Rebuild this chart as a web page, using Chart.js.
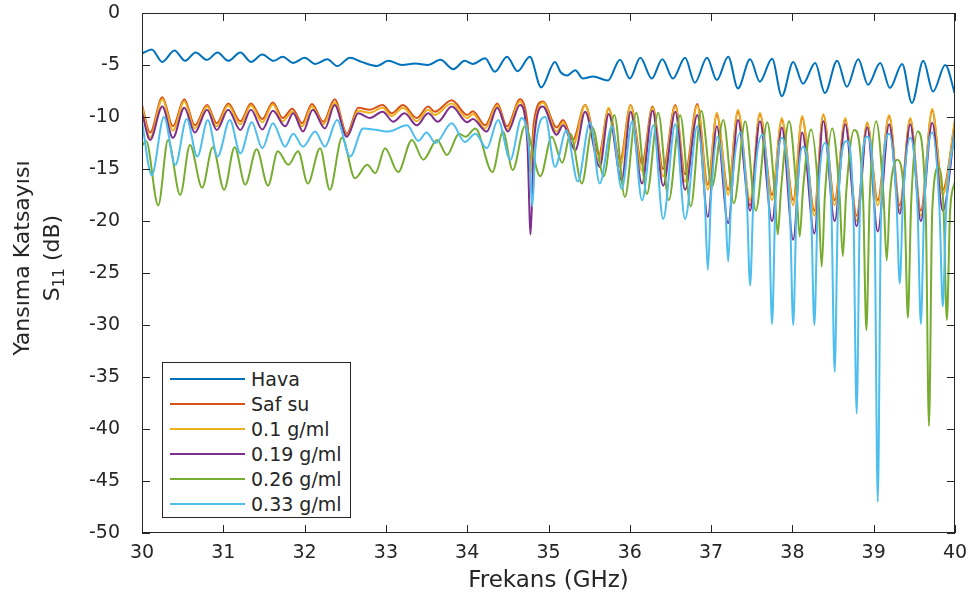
<!DOCTYPE html>
<html>
<head>
<meta charset="utf-8">
<script src="https://cdn.jsdelivr.net/npm/chart.js@4/dist/chart.umd.min.js"></script>
<style>
    body { margin: 0; background: #fff; }
    #wrap { position: relative; width: 971px; height: 599px; font-family: "DejaVu Sans", sans-serif; color: #262626; }
    #chart { position: absolute; left: 0; top: 0; }
    #ylabel {
        position: absolute; left: -113px; top: 228px; width: 300px; height: 60px;
        transform: rotate(-90deg); text-align: center; font-size: 22px; line-height: 30px;
    }
    #ylabel sub { font-size: 15px; }
    #legend {
        position: absolute; left: 162px; top: 362px; width: 189px; height: 156px;
        border: 1px solid #262626; background: #fff; box-sizing: border-box; padding-top: 3px;
    }
    .row { height: 25px; display: flex; align-items: center; font-size: 19px; }
    .swatch { width: 75px; height: 2px; margin: 0 6px 0 7px; }
</style>
</head>
<body>
<div id="wrap">
    <canvas id="chart" width="971" height="599"></canvas>
    <div id="ylabel">Yansıma Katsayısı<br>S<sub>11</sub> (dB)</div>
    <div id="legend"></div>
</div>
<script>
    const seriesNames = ['Hava', 'Saf su', '0.1 g/ml', '0.19 g/ml', '0.26 g/ml', '0.33 g/ml'];
    const seriesColors = ['#0072BD', '#D95319', '#EDB120', '#7E2F8E', '#77AC30', '#4DBEEE'];

    // Hava
    const havaFreq = [
        30.00, 30.12, 30.25, 30.40, 30.53, 30.66, 30.80, 30.93, 31.06, 31.21, 31.34, 31.48, 31.62,
        31.73, 31.86, 32.00, 32.13, 32.28, 32.40, 32.56, 32.70, 32.89, 33.03, 33.20, 33.36, 33.52,
        33.67, 33.83, 33.97, 34.07, 34.22, 34.34, 34.49, 34.62, 34.77, 34.91, 35.08, 35.15, 35.23,
        35.33, 35.42, 35.55, 35.73, 35.88, 36.00, 36.13, 36.27, 36.40, 36.53, 36.68, 36.80, 36.95,
        37.07, 37.21, 37.33, 37.48, 37.60, 37.75, 37.87, 38.01, 38.13, 38.28, 38.40, 38.55, 38.67,
        38.81, 38.93, 39.08, 39.20, 39.35, 39.47, 39.61, 39.73, 39.88, 40.00
    ];
    const havaDb = [
        -3.9, -3.5, -4.7, -3.6, -4.6, -3.8, -4.5, -3.8, -4.6, -3.8, -4.7, -4.0, -4.6,
        -4.2, -4.8, -4.3, -4.9, -4.45, -5.1, -4.3, -4.7, -5.1, -4.6, -5.0, -4.85, -5.0,
        -4.5, -5.4, -4.6, -4.9, -4.35, -5.65, -4.2, -5.6, -4.2, -7.15, -4.7, -5.7, -6.0,
        -5.5, -6.3, -6.1, -6.5, -4.5, -6.3, -4.3, -6.3, -4.45, -6.3, -4.3, -6.7, -4.3,
        -6.45, -4.2, -7.25, -4.45, -6.6, -4.4, -8.0, -4.7, -6.8, -4.8, -7.7, -4.6, -7.1,
        -4.45, -6.9, -4.8, -7.2, -4.9, -8.65, -4.6, -7.55, -5.0, -7.8
    ];

    // Saf su and 0.1 g/ml share the same sample frequencies
    const suFreq = [
        30.00, 30.10, 30.25, 30.38, 30.52, 30.65, 30.80, 30.92, 31.06, 31.21, 31.34, 31.48, 31.61,
        31.73, 31.85, 31.97, 32.09, 32.23, 32.37, 32.52, 32.66, 32.80, 32.96, 33.07, 33.21,
        33.38, 33.52, 33.60, 33.81, 34.00, 34.07, 34.22, 34.37, 34.49, 34.65, 34.74, 34.78, 34.82, 34.93,
        35.10, 35.18, 35.30, 35.45, 35.62, 35.74, 35.88, 36.01, 36.15, 36.28, 36.41, 36.56, 36.68, 36.83,
        36.96, 37.07, 37.21, 37.33, 37.48, 37.60, 37.75, 37.87, 38.01, 38.12, 38.27, 38.38,
        38.52, 38.65, 38.79, 38.92, 39.05, 39.19, 39.32, 39.45, 39.58, 39.72, 39.85, 40.00
    ];
    const safSuDb = [
        -8.85, -11.5, -8.1, -10.9, -8.3, -10.8, -8.85, -10.6, -8.7, -10.4, -8.7, -10.2, -8.6,
        -10.1, -9.2, -10.6, -8.75, -10.45, -8.3, -11.6, -9.1, -9.3, -8.85, -9.65, -8.85,
        -10.1, -9.0, -9.5, -8.4, -9.8, -9.45, -10.8, -8.7, -10.9, -8.3, -10.5, -14.5, -10.5, -8.5,
        -11.0, -10.3, -12.2, -8.85, -13.6, -9.2, -14.2, -8.85, -14.5, -9.0, -15.0, -8.85, -15.5, -8.75,
        -16.5, -9.8, -17.0, -9.5, -18.5, -9.7, -17.5, -10.3, -18.0, -10.1, -19.0, -9.8,
        -18.0, -10.3, -19.5, -10.6, -18.0, -9.9, -18.5, -10.2, -19.0, -9.4, -17.0, -10.4
    ];
    const g010Db = [
        -9.0, -12.0, -8.3, -11.3, -8.5, -11.1, -9.0, -10.9, -8.9, -10.7, -8.9, -10.5, -8.8,
        -10.4, -9.5, -10.9, -9.0, -10.7, -8.6, -11.8, -9.4, -9.6, -9.1, -9.9, -9.1,
        -10.4, -9.3, -9.8, -8.7, -10.1, -9.7, -11.1, -8.9, -11.2, -8.5, -11.5, -15.5, -11.5, -8.6,
        -11.4, -10.5, -12.8, -8.9, -14.2, -9.1, -14.8, -8.9, -15.2, -9.1, -15.7, -9.0, -16.2, -8.9,
        -17.0, -9.6, -17.5, -9.3, -18.0, -9.6, -18.0, -10.1, -18.5, -9.9, -19.5, -9.7,
        -18.5, -10.1, -20.0, -10.5, -18.5, -9.8, -19.0, -10.1, -19.5, -9.2, -17.5, -10.2
    ];

    // 0.19 g/ml
    const g019Freq = [
        30.00, 30.10, 30.25, 30.38, 30.52, 30.65, 30.80, 30.92, 31.06, 31.21, 31.34, 31.48, 31.61,
        31.76, 31.86, 31.98, 32.10, 32.25, 32.37, 32.52, 32.66, 32.80, 32.96, 33.09, 33.23,
        33.38, 33.52, 33.64, 33.81, 34.00, 34.07, 34.24, 34.37, 34.50, 34.65, 34.74, 34.78, 34.82, 34.93,
        35.10, 35.18, 35.33, 35.45, 35.63, 35.74, 35.90, 36.01, 36.15, 36.28, 36.41, 36.56, 36.68, 36.83,
        36.96, 37.07, 37.21, 37.33, 37.48, 37.60, 37.75, 37.87, 38.01, 38.12, 38.27, 38.38,
        38.52, 38.65, 38.79, 38.92, 39.05, 39.19, 39.32, 39.45, 39.58, 39.72, 39.85, 40.00
    ];
    const g019Db = [
        -9.6, -12.2, -9.0, -12.0, -9.1, -11.5, -9.3, -11.25, -9.3, -11.25, -9.3, -11.2, -9.4,
        -10.9, -9.65, -11.4, -9.3, -11.1, -8.85, -11.9, -9.65, -10.1, -9.5, -10.45, -9.65,
        -10.8, -9.65, -10.45, -9.0, -10.5, -10.2, -11.4, -9.1, -11.4, -8.85, -12.5, -21.3, -12.5, -9.0,
        -11.7, -10.8, -13.2, -9.5, -14.8, -9.7, -16.1, -9.5, -16.4, -9.4, -16.6, -9.5, -17.0, -9.8,
        -19.6, -10.9, -20.2, -10.3, -19.0, -10.4, -20.0, -11.0, -21.8, -11.5, -21.2, -10.4,
        -20.0, -10.7, -20.5, -11.0, -21.0, -10.7, -19.3, -10.7, -20.0, -10.55, -19.0, -11.1
    ];

    // 0.26 g/ml
    const g026Freq = [
        30.00, 30.05, 30.20, 30.32, 30.47, 30.59, 30.74, 30.87, 31.01, 31.14, 31.27, 31.41, 31.55,
        31.67, 31.80, 31.92, 32.04, 32.19, 32.31, 32.46, 32.62, 32.77, 32.87, 32.99, 33.15, 33.32,
        33.46, 33.63, 33.75, 33.90, 33.98, 34.10, 34.31, 34.44, 34.56, 34.71, 34.90, 35.04,
        35.17, 35.27, 35.41, 35.54, 35.68, 35.81, 35.94, 36.08, 36.21, 36.35, 36.48, 36.62, 36.75, 36.88,
        37.01, 37.15, 37.28, 37.42, 37.55, 37.69, 37.78, 37.82, 37.86, 37.96, 38.05, 38.09, 38.13, 38.23,
        38.32, 38.36, 38.40, 38.49, 38.58, 38.62, 38.66, 38.76, 38.87, 38.91, 38.95, 39.03,
        39.12, 39.16, 39.20, 39.29, 39.38, 39.42, 39.46, 39.54, 39.64, 39.68, 39.72, 39.80, 39.86, 39.90, 39.94, 40.00
    ];
    const g026Db = [
        -12.8, -12.3, -18.5, -12.2, -17.5, -12.7, -16.8, -12.9, -17.0, -12.9, -16.5, -13.1, -16.6,
        -13.3, -14.6, -13.3, -16.4, -13.0, -17.0, -12.0, -15.9, -14.6, -15.4, -13.0, -15.3, -12.2,
        -14.1, -12.2, -13.65, -11.6, -11.9, -11.1, -15.3, -11.4, -15.1, -10.9, -15.7, -11.9,
        -14.4, -11.6, -16.4, -11.0, -15.7, -9.8, -17.7, -9.6, -17.4, -9.6, -18.0, -9.8, -18.6, -9.4,
        -16.7, -10.3, -18.3, -10.4, -19.0, -10.5, -17.0, -21.3, -17.0, -10.4, -17.0, -21.5, -17.0, -11.2,
        -17.5, -24.4, -17.5, -11.1, -17.5, -23.4, -17.5, -11.25, -18.0, -30.5, -18.0, -10.4,
        -17.5, -23.8, -17.5, -14.1, -18.5, -29.3, -18.5, -11.4, -19.0, -39.7, -19.0, -14.8, -19.0, -29.5, -19.0, -16.2
    ];

    // 0.33 g/ml
    const g033Freq = [
        30.00, 30.12, 30.27, 30.41, 30.55, 30.68, 30.81, 30.93, 31.08, 31.21, 31.35, 31.48, 31.61,
        31.76, 31.86, 31.98, 32.13, 32.25, 32.40, 32.56, 32.72, 32.89, 33.03, 33.26, 33.40,
        33.50, 33.61, 33.81, 33.97, 34.10, 34.24, 34.38, 34.53, 34.67, 34.76, 34.80, 34.84, 34.96,
        35.08, 35.22, 35.36, 35.51, 35.63, 35.78, 35.90, 36.03, 36.15, 36.29, 36.41, 36.56, 36.68, 36.83,
        36.92, 36.96, 37.00, 37.08, 37.17, 37.21, 37.25, 37.36, 37.44, 37.48, 37.52, 37.63,
        37.71, 37.75, 37.79, 37.87, 37.97, 38.01, 38.05, 38.13, 38.23, 38.27, 38.31, 38.40,
        38.48, 38.52, 38.56, 38.67, 38.75, 38.79, 38.83, 38.92, 39.01, 39.05, 39.09, 39.19,
        39.28, 39.32, 39.36, 39.45, 39.54, 39.58, 39.62, 39.72, 39.81, 39.85, 39.89, 40.00
    ];
    const g033Db = [
        -10.45, -15.6, -10.0, -14.6, -10.2, -13.8, -10.3, -13.8, -10.3, -13.5, -10.5, -13.0, -10.6,
        -12.85, -11.6, -12.85, -11.4, -12.85, -10.3, -13.8, -11.1, -11.25, -11.4, -10.8, -12.3,
        -11.5, -12.5, -10.6, -12.4, -11.6, -13.0, -10.3, -14.1, -10.1, -13.0, -18.6, -13.0, -10.0,
        -14.8, -11.3, -16.2, -10.5, -16.4, -10.9, -16.9, -10.4, -18.0, -10.8, -19.8, -10.7, -19.8, -10.9,
        -17.5, -24.7, -17.5, -11.9, -17.5, -23.9, -17.5, -11.5, -18.0, -26.2, -18.0, -11.7,
        -18.5, -29.9, -18.5, -12.0, -19.0, -30.0, -19.0, -12.85, -19.0, -30.0, -19.0, -12.5,
        -19.0, -34.5, -19.0, -12.3, -19.0, -38.5, -19.0, -11.9, -19.5, -47.0, -19.5, -11.6,
        -18.0, -26.0, -18.0, -12.0, -19.0, -29.9, -19.0, -11.5, -19.0, -28.2, -19.0, -11.3
    ];

    const seriesFreq = [havaFreq, suFreq, suFreq, g019Freq, g026Freq, g033Freq];
    const seriesDb = [havaDb, safSuDb, g010Db, g019Db, g026Db, g033Db];

    function toPoints(freq, db) {
        return freq.map((f, i) => ({ x: f, y: db[i] }));
    }

    const datasets = seriesNames.map((name, i) => ({
        label: name,
        data: toPoints(seriesFreq[i], seriesDb[i]),
        borderColor: seriesColors[i],
        backgroundColor: seriesColors[i],
        borderWidth: 2,
        pointRadius: 0,
        fill: false,
        cubicInterpolationMode: 'monotone',
        order: seriesNames.length - i
    }));

    const legendEl = document.getElementById('legend');
    seriesNames.forEach((name, i) => {
        const row = document.createElement('div');
        row.className = 'row';
        row.innerHTML = `<span class="swatch" style="background:${seriesColors[i]}"></span><span>${name}</span>`;
        legendEl.appendChild(row);
    });

    const axesBox = {
        id: 'axesBox',
        afterDraw(chart) {
            const { ctx, chartArea: a, scales } = chart;
            ctx.save();
            ctx.strokeStyle = '#262626';
            ctx.lineWidth = 1;
            ctx.strokeRect(a.left + 0.5, a.top + 0.5, a.width - 1, a.height - 1);
            ctx.beginPath();
            scales.x.ticks.forEach(t => {
                const px = Math.round(scales.x.getPixelForValue(t.value)) + 0.5;
                ctx.moveTo(px, a.bottom); ctx.lineTo(px, a.bottom - 8);
                ctx.moveTo(px, a.top); ctx.lineTo(px, a.top + 8);
            });
            scales.y.ticks.forEach(t => {
                const py = Math.round(scales.y.getPixelForValue(t.value)) + 0.5;
                ctx.moveTo(a.left, py); ctx.lineTo(a.left + 8, py);
                ctx.moveTo(a.right, py); ctx.lineTo(a.right - 8, py);
            });
            ctx.stroke();
            ctx.restore();
        }
    };

    const tickFont = { family: '"DejaVu Sans", sans-serif', size: 19 };

    new Chart(document.getElementById('chart').getContext('2d'), {
        type: 'line',
        data: { datasets: datasets },
        options: {
            responsive: false,
            animation: false,
            layout: { padding: { left: 0, right: 16, top: 13, bottom: 0 } },
            scales: {
                x: {
                    type: 'linear',
                    min: 30,
                    max: 40,
                    ticks: { stepSize: 1, color: '#262626', font: tickFont, padding: 9, maxRotation: 0 },
                    grid: { display: false, drawTicks: false },
                    border: { display: false },
                    title: {
                        display: true,
                        text: 'Frekans (GHz)',
                        color: '#262626',
                        font: { family: '"DejaVu Sans", sans-serif', size: 23 },
                        padding: { top: 0, bottom: 4 }
                    },
                    afterFit: function(scale) {
                        scale.height = 66;
                        scale.paddingLeft = 0;
                        scale.paddingRight = 0;
                    }
                },
                y: {
                    min: -50,
                    max: 0,
                    ticks: { stepSize: 5, color: '#262626', font: tickFont, padding: 22 },
                    grid: { display: false, drawTicks: false },
                    border: { display: false },
                    afterFit: function(scale) {
                        scale.width = 142;
                        scale.paddingTop = 0;
                        scale.paddingBottom = 0;
                    }
                }
            },
            plugins: {
                legend: { display: false },
                tooltip: { enabled: false }
            }
        },
        plugins: [axesBox]
    });
</script>
</body>
</html>
